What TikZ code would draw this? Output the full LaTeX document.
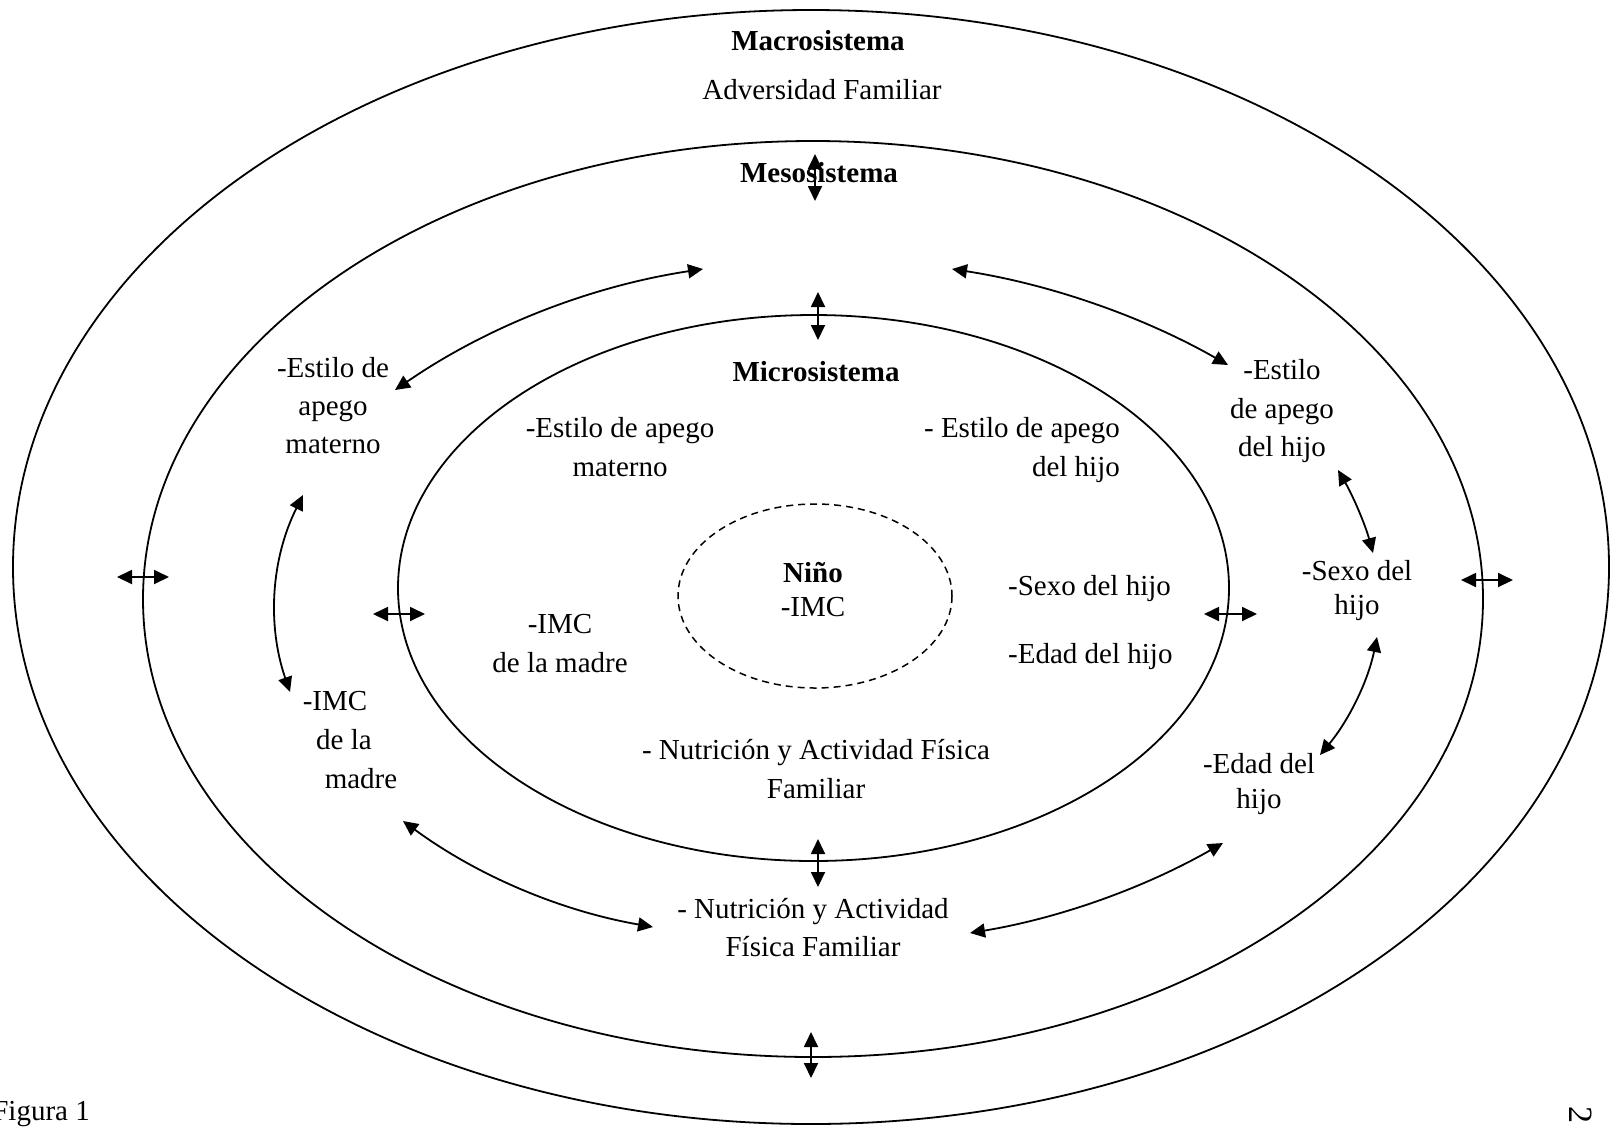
\documentclass[tikz,border=0pt]{standalone}
\usepackage{fontspec}
\setmainfont{Liberation Serif}
\usetikzlibrary{arrows.meta}
\tikzset{
  ring/.style={line width=1.8pt},
  inner ring/.style={line width=1.5pt, dash pattern=on 7pt off 5pt},
  biarrow/.style={line width=1.8pt, {Triangle[length=15pt,width=14pt]}-{Triangle[length=15pt,width=14pt]}},
  lbl/.style={anchor=base, inner sep=0pt, font=\fontsize{29}{38}\selectfont},
}
\begin{document}
\begin{tikzpicture}[x=1pt,y=-1pt]
\useasboundingbox (0,0) rectangle (1616,1128);
\fill[white] (0,0) rectangle (1616,1128);

% ellipses
\draw[ring] (811,567) ellipse [x radius=798, y radius=557];
\draw[ring] (813,599) ellipse [x radius=670, y radius=458];
\draw[ring] (813.5,588) ellipse [x radius=415.5, y radius=273];
\draw[inner ring] (815,596) ellipse [x radius=137, y radius=92];

% texts
\node[lbl] (macro) at (818,50) {\bfseries Macrosistema};
\node[lbl] (adv) at (822,99) {Adversidad Familiar};
\node[lbl] (meso) at (819,182) {\bfseries Mesosistema};
\node[lbl] (micro) at (816,381) {\bfseries Microsistema};
\node[lbl] (meA1) at (620,437) {-Estilo de apego};
\node[lbl] (meA2) at (620,476) {materno};
\node[lbl,anchor=base east] (hA1) at (1120,437) {- Estilo de apego};
\node[lbl,anchor=base east] (hA2) at (1120,476) {del hijo};
\node[lbl] (nino) at (813,582) {\bfseries Niño};
\node[lbl] (nimc) at (813,616) {-IMC};
\node[lbl] (mimc1) at (560,633) {-IMC};
\node[lbl] (mimc2) at (560,672) {de la madre};
\node[lbl,anchor=base west] (sexo) at (1008,595) {-Sexo del hijo};
\node[lbl,anchor=base west] (edad) at (1008,663) {-Edad del hijo};
\node[lbl] (nut1) at (816,759) {- Nutrición y Actividad Física};
\node[lbl] (nut2) at (816,798) {Familiar};
\node[lbl] (lm1) at (333,377) {-Estilo de};
\node[lbl] (lm2) at (333,415) {apego};
\node[lbl] (lm3) at (333,453) {materno};
\node[lbl] (li1) at (335,710) {-IMC};
\node[lbl] (li2) at (344,749) {de la};
\node[lbl] (li3) at (361,788) {madre};
\node[lbl] (rh1) at (1282,379) {-Estilo};
\node[lbl] (rh2) at (1282,418) {de apego};
\node[lbl] (rh3) at (1282,456) {del hijo};
\node[lbl] (rs1) at (1357,580) {-Sexo del};
\node[lbl] (rs2) at (1357,614) {hijo};
\node[lbl] (re1) at (1259,773) {-Edad del};
\node[lbl] (re2) at (1259,808) {hijo};
\node[lbl] (bn1) at (813,918) {- Nutrición y Actividad};
\node[lbl] (bn2) at (813,956) {Física Familiar};
\node[lbl,anchor=base east] (fig) at (90,1120) {Figura 1};
\node[inner sep=0pt, rotate=-90, font=\fontsize{34}{38}\selectfont] (pg) at (1581,1115) {2};

% straight double arrows
\coordinate (v1a) at (815,154); \coordinate (v1b) at (815,201);
\coordinate (v2a) at (818,292); \coordinate (v2b) at (818,340);
\coordinate (v3a) at (818,839); \coordinate (v3b) at (818,887);
\coordinate (v4a) at (811,1032); \coordinate (v4b) at (811,1078);
\coordinate (h1a) at (117,577); \coordinate (h1b) at (169,577);
\coordinate (h2a) at (373,614); \coordinate (h2b) at (425,614);
\coordinate (h3a) at (1204,614); \coordinate (h3b) at (1257,614);
\coordinate (h4a) at (1461,580); \coordinate (h4b) at (1513,580);
\foreach \p in {v1,v2,v3,v4,h1,h2,h3,h4}{
  \draw[biarrow] (\p a) -- (\p b);
}

% curved double arrows
\coordinate (c1a) at (395,390); \coordinate (c1b) at (703,269);
\draw[biarrow] (c1a) .. controls (488,326) and (591,286) .. (c1b);
\coordinate (c2a) at (952,269); \coordinate (c2b) at (1228,365);
\draw[biarrow] (c2a) .. controls (1049,284) and (1142,316) .. (c2b);
\coordinate (c3a) at (303,495); \coordinate (c3b) at (290,692);
\draw[biarrow] (c3a) .. controls (271,559) and (267,625) .. (c3b);
\coordinate (c4a) at (1338,470); \coordinate (c4b) at (1373,553);
\draw[biarrow] (c4a) .. controls (1353,496) and (1365,524) .. (c4b);
\coordinate (c5a) at (1377,637); \coordinate (c5b) at (1320,755);
\draw[biarrow] (c5a) .. controls (1368,681) and (1349,720) .. (c5b);
\coordinate (c6a) at (403,821); \coordinate (c6b) at (653,927);
\draw[biarrow] (c6a) .. controls (478,876) and (561,911) .. (c6b);
\coordinate (c7a) at (1223,843); \coordinate (c7b) at (970,933);
\draw[biarrow] (c7a) .. controls (1144,888) and (1060,918) .. (c7b);
\end{tikzpicture}
\end{document}
